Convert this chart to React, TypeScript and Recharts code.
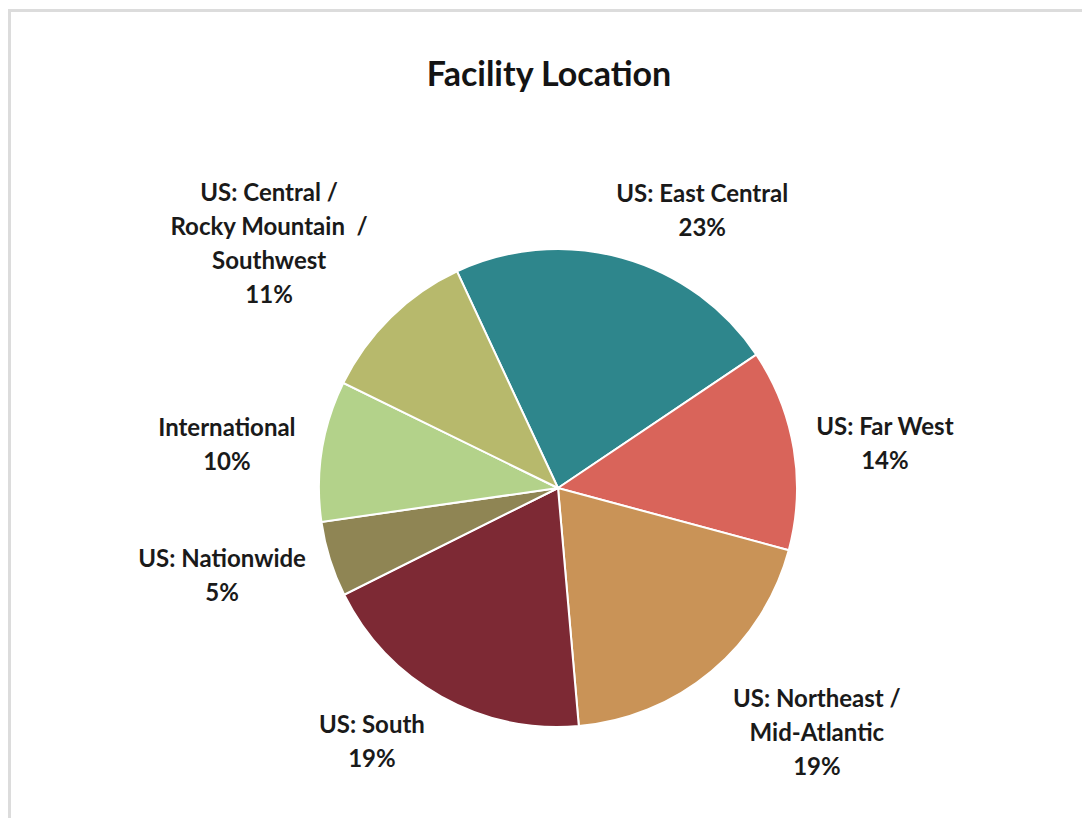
import React from "react";
import { PieChart, Pie, Cell } from "recharts";

const categories = [
  "US: East Central",
  "US: Far West",
  "US: Northeast /\nMid-Atlantic",
  "US: South",
  "US: Nationwide",
  "International",
  "US: Central /\nRocky Mountain  /\nSouthwest",
];
const shares = [22.5, 13.6, 19.4, 19.0, 5.1, 9.5, 10.8];
const percentLabels = ["23%", "14%", "19%", "19%", "5%", "10%", "11%"];
const colors = ["#2E868C", "#D9645A", "#C99357", "#7D2934", "#8F8554", "#B3D28A", "#B7B96C"];

// label placement: radial distance (px from centre) and angular shift (degrees, clockwise)
const labelRadius = [313, 330, 356, 314, 347, 334, 379];
const labelShift = [11.9, 1.6, -6.7, 7.1, 2.8, -1.4, -5.2];

const data = categories.map((name, i) => ({ name, value: shares[i], pct: percentLabels[i] }));

const FONT = "Lato, 'Noto Sans', sans-serif";
const RAD = Math.PI / 180;

const renderLabel = (props: any) => {
  const { cx, cy, midAngle, index } = props;
  const ang = midAngle - labelShift[index];
  const r = labelRadius[index];
  const x = cx + r * Math.cos(-ang * RAD);
  const y = cy + r * Math.sin(-ang * RAD);
  const lines = [...categories[index].split("\n"), percentLabels[index]];
  const lh = 34;
  const y0 = y - ((lines.length - 1) * lh) / 2 - 1;
  return (
    <text
      key={`lbl-${index}`}
      x={x}
      y={y0}
      textAnchor="middle"
      dominantBaseline="central"
      fontFamily={FONT}
      fontWeight={700}
      fontSize={24}
      fill="#1a1a1a"
    >
      {lines.map((ln, k) => (
        <tspan key={k} x={x} y={y0 + k * lh} style={{ whiteSpace: "pre" }}>
          {ln}
        </tspan>
      ))}
    </text>
  );
};

export default function App() {
  return (
    <div style={{ position: "fixed", left: 0, top: 0, width: 1082, height: 818, overflow: "hidden", background: "#fff" }}>
      <div
        style={{
          position: "absolute",
          left: 8,
          top: 9,
          width: 1100,
          height: 840,
          border: "3px solid #dcdcdc",
          boxSizing: "border-box",
        }}
      />
      <div
        style={{
          position: "absolute",
          left: 0,
          width: 1098,
          top: 52,
          textAlign: "center",
          fontFamily: FONT,
          fontWeight: 700,
          fontSize: 34,
          color: "#141414",
        }}
      >
        Facility Location
      </div>
      <div style={{ position: "absolute", left: 0, top: 0 }}>
        <PieChart width={1082} height={818}>
          <Pie
            data={data}
            dataKey="value"
            nameKey="name"
            cx={553}
            cy={483}
            outerRadius={239}
            startAngle={115}
            endAngle={-245}
            stroke="#ffffff"
            strokeWidth={2}
            label={renderLabel}
            labelLine={false}
            isAnimationActive={false}
          >
            {data.map((d, i) => (
              <Cell key={d.name} fill={colors[i]} />
            ))}
          </Pie>
        </PieChart>
      </div>
    </div>
  );
}
